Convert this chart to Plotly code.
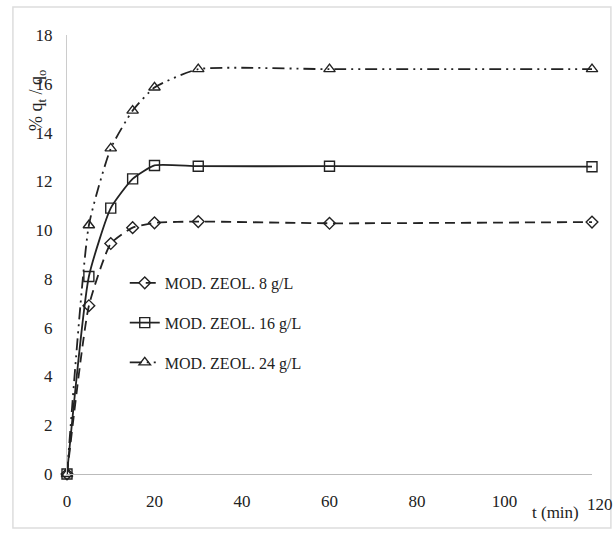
import plotly.graph_objects as go

t_min = [0, 5, 10, 15, 20, 30, 60, 120]
zeol_8 = [0, 6.9, 9.45, 10.1, 10.3, 10.35, 10.28, 10.33]
zeol_16 = [0, 8.1, 10.9, 12.1, 12.65, 12.62, 12.62, 12.6]
zeol_24 = [0, 10.2, 13.35, 14.9, 15.85, 16.6, 16.6, 16.6]
names = ["MOD. ZEOL. 8 g/L", "MOD. ZEOL. 16 g/L", "MOD. ZEOL. 24 g/L"]
x_ticks = [0, 20, 40, 60, 80, 100, 120]
y_ticks = [0, 2, 4, 6, 8, 10, 12, 14, 16, 18]

FONT = "Liberation Serif, serif"
TICKFONT = dict(family=FONT, size=17, color="#222")
fig = go.Figure()
series = [(zeol_8, "diamond-open", "10px,6px", 9), (zeol_16, "square-open", "solid", 10),
          (zeol_24, "triangle-up-open", "12px,5px,2px,5px,2px,5px", 10)]
for i, (vals, sym, dash, ms) in enumerate(series):
    fig.add_trace(go.Scatter(
        x=t_min, y=vals, name=names[i], mode="lines+markers",
        line=dict(color="#222", width=1.8, dash=dash, shape="spline", smoothing=0.5),
        marker=dict(symbol=sym, size=ms, color="#222", line=dict(width=1.4, color="#222")),
        legendgroup=f"g{i}", cliponaxis=False,
    ))

fig.update_layout(
    width=614, height=533,
    margin=dict(l=67, r=22, t=35, b=59),
    paper_bgcolor="white", plot_bgcolor="white",
    font=dict(family=FONT, size=17, color="#222"),
    showlegend=True,
    legend=dict(x=0.11, y=0.474, xanchor="left", yanchor="top", bgcolor="rgba(0,0,0,0)",
                font=dict(family=FONT, size=16, color="#222"),
                tracegroupgap=16, itemwidth=30, traceorder="grouped"),
    xaxis=dict(range=[0, 120], tickvals=x_ticks, ticktext=[str(v) if v != 120 else "" for v in x_ticks],
               showgrid=False, zeroline=False, showline=True, linecolor="#bbb", linewidth=1,
               ticks="", ticklabelstandoff=12, tickfont=TICKFONT),
    yaxis=dict(range=[0, 18], tickvals=y_ticks, showgrid=False, zeroline=False, showline=True,
               linecolor="#ccc", linewidth=1, ticks="", ticklabelstandoff=10, tickfont=TICKFONT),
    annotations=[
        dict(text="% q<sub>t</sub> / q<sub>o</sub>", xref="paper", yref="paper", x=-0.055, y=0.85,
             xanchor="center", yanchor="middle",
             textangle=-90, showarrow=False, font=dict(family=FONT, size=18, color="#222")),
        dict(text="t (min)", xref="paper", yref="paper", x=0.93, y=-0.087,
             xanchor="center", yanchor="middle",
             showarrow=False, font=dict(family=FONT, size=17, color="#222")),
        dict(text="120", xref="paper", yref="paper", x=1.015, y=-0.07,
             xanchor="center", yanchor="middle",
             showarrow=False, font=dict(family=FONT, size=17, color="#222")),
    ],
    shapes=[dict(type="rect", xref="paper", yref="paper", x0=-0.103, x1=1.036, y0=-0.123, y1=1.064,
                 line=dict(color="#ddd", width=1.5))],
)
fig.write_html("out.html", config={"displayModeBar": False},
               post_script="document.body.style.margin='0';document.body.style.overflow='hidden';")
